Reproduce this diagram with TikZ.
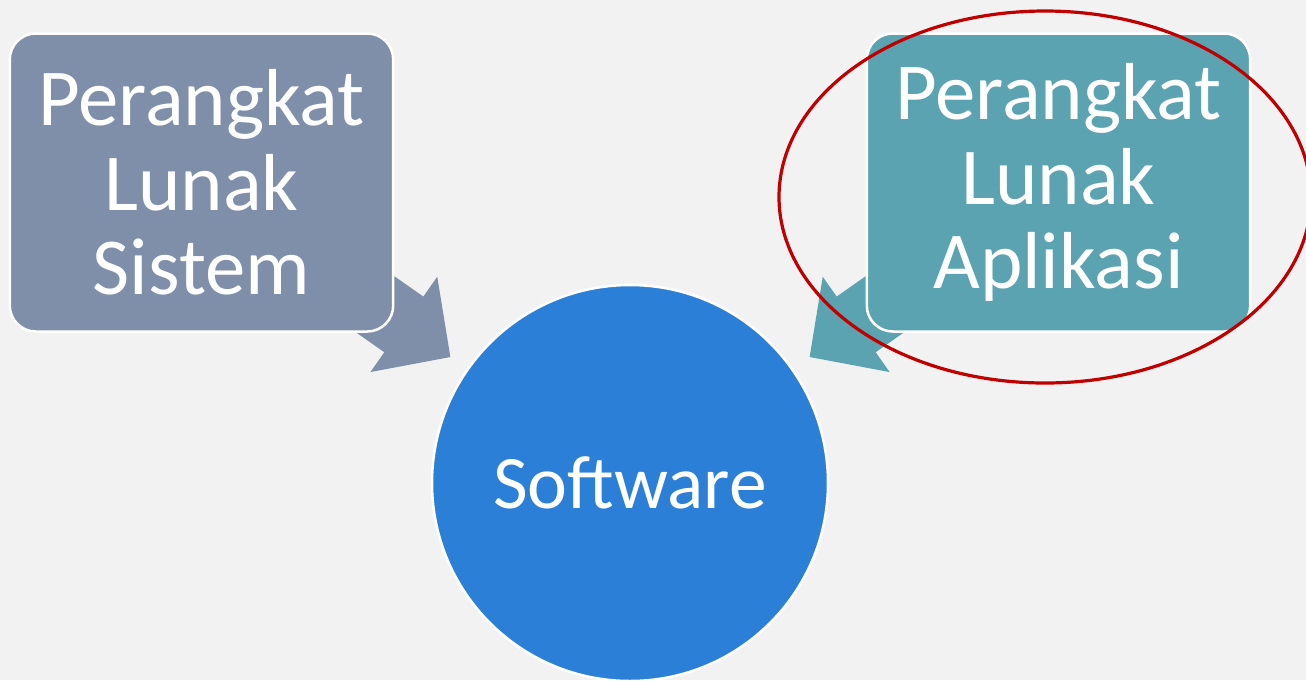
\documentclass[tikz,border=0pt]{standalone}
\usepackage{fontspec}
\setmainfont{Carlito}
\usetikzlibrary{positioning, arrows.meta}
\definecolor{sysblue}{HTML}{7F8FA9}
\definecolor{appteal}{HTML}{5BA3B0}
\definecolor{swblue}{HTML}{2B7FD7}
\definecolor{pagegray}{HTML}{F2F2F2}
\definecolor{markred}{HTML}{C00000}
\pgfdeclarelayer{bg}
\pgfdeclarelayer{arr}
\pgfsetlayers{bg,arr,main}
\tikzset{
	box/.style={
		rectangle,
		draw=white,
		line width=0.25mm,
		rounded corners=2.6mm,
		minimum width=37.4mm,
		minimum height=29.8mm,
		text width=36mm,
		align=center,
		text=white,
		font=\fontsize{23}{24}\selectfont,
	},
	hub/.style={
		circle,
		draw=white,
		line width=0.25mm,
		fill=swblue,
		minimum size=39.6mm,
		text=white,
		font=\fontsize{21.5}{24}\selectfont,
	},
	bigarrow/.style={
		line width=6.8mm,
		shorten >=2mm,
		-{Triangle[width=11.3mm, length=5.7mm]},
	},
}

\begin{document}
\begin{tikzpicture}[x=0.1mm, y=-0.1mm]
	\useasboundingbox (0,0) rectangle (1306,680);
	\begin{pgfonlayer}{bg}
		\fill[pagegray] (0,0) rectangle (1306,680);
	\end{pgfonlayer}

	\node [hub] (sw) at (630,483) {Software};
	\node [box, fill=sysblue] (sys) at (201.5,182.5) {Perangkat\\Lunak\\Sistem};
	\node [box, fill=appteal] (app) at (1058.5,182.5) {Perangkat\\Lunak\\Aplikasi};

	\begin{pgfonlayer}{arr}
		\draw [bigarrow, sysblue] (sys.center) -- (sw);
		\draw [bigarrow, appteal] (app.center) -- (sw);
	\end{pgfonlayer}

	% highlight
	\draw [markred, line width=0.32mm] (1045,197) ellipse [x radius=26.6mm, y radius=18.6mm];
\end{tikzpicture}
\end{document}
